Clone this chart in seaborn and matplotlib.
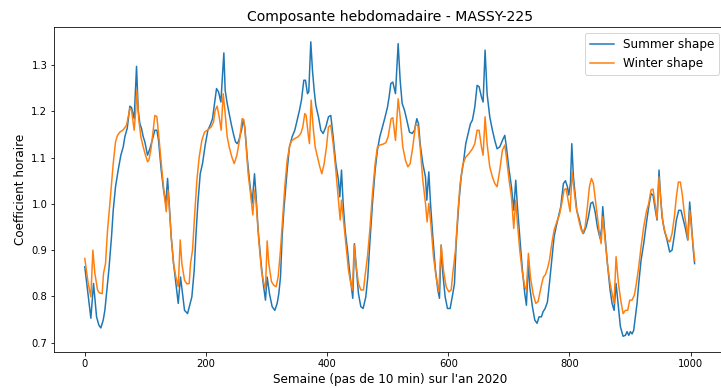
import numpy as np
import pandas as pd
import matplotlib
matplotlib.use("Agg")
import matplotlib.pyplot as plt
import seaborn as sns

title = "Composante hebdomadaire - MASSY-225"
xlabel = "Semaine (pas de 10 min) sur l'an 2020"
ylabel = "Coefficient horaire"
series_names = ["Summer shape", "Winter shape"]

summer_x = [0, 10, 14.4, 19.4, 23.2, 26.5, 30.4, 33.1, 37.5, 39.7, 44.1, 46.9, 50.7, 55.1, 59.5, 63.4, 66.1, 70, 74.4, 77.1,
            81.5, 85.4, 88.1, 90.9, 93.6, 96.4, 99.1, 103.5, 107.4, 111.2, 115.6, 119, 121.7, 126.1, 130, 133.8, 136.6, 139.3,
            142.6, 146.5, 150.3, 154.2, 158, 164.6, 169.6, 174, 176.7, 180.6, 183.3, 186.6, 190.5, 194.3, 198.7, 203.1, 207,
            210.8, 214.1, 217.4, 220.7, 224.6, 229.5, 231.7, 235, 238.3, 241.6, 245.5, 248.7, 251.5, 254.2, 258.6, 261.4,
            264.1, 268, 271.8, 276.2, 280.1, 282.8, 286.1, 290, 293.8, 298.2, 301, 304.8, 309.2, 313.6, 317.5, 320.2, 323,
            325.7, 328.5, 331.2, 334, 337.8, 342.2, 346.6, 350.5, 354.3, 357.6, 361.5, 364.2, 367.5, 369.7, 373, 375.8,
            378.6, 381.3, 385.7, 389.6, 393.4, 397.8, 402.2, 406, 409.9, 414.3, 418.7, 420.9, 423.7, 426.4, 429.7, 433.6,
            437.4, 440.7, 442.3, 445.1, 448.4, 451.7, 455.6, 459.4, 463.8, 467.1, 470.4, 474.8, 479.2, 483, 486.9, 491.3,
            495.7, 499.6, 502.3, 505.1, 508.4, 512.8, 517.2, 520.5, 523.8, 527.7, 531.5, 535.9, 540.3, 544.2, 548, 550.8,
            553.5, 557.9, 562.3, 564.5, 567.8, 570.6, 574.4, 578.8, 582.7, 585.4, 588.2, 590.9, 594.8, 598.6, 603, 607.4,
            610.2, 612.9, 617.3, 621.2, 625, 628.8, 632.7, 636.5, 639.8, 643.7, 647.5, 650.8, 654.7, 657.4, 660.7, 664,
            668.4, 672.8, 676.7, 680.5, 684.9, 689.3, 693.2, 695.9, 700.3, 704.2, 708, 711.3, 714.1, 717.9, 722.3, 726.2,
            728.9, 732.2, 734.4, 738.8, 742.7, 746.5, 749.8, 753.7, 756.4, 759.8, 763.6, 766.9, 770.8, 774.6, 777.9, 781.8,
            785.6, 790, 793.3, 796.6, 798.8, 801.6, 803.8, 806.5, 809.3, 812, 816.4, 820.3, 823, 827.4, 831.3, 835.1, 838.4,
            842.3, 846.1, 850.5, 853.3, 854.9, 858.8, 862.6, 867, 870.3, 873.6, 876.9, 880.8, 884, 888.4, 892.3, 895, 897.8,
            900.5, 903.3, 906, 908.8, 911.5, 914.3, 918.1, 922.5, 926.9, 930.8, 934.6, 937.9, 941.8, 944.5, 947.8, 950,
            952.8, 956.6, 961, 965.4, 969.3, 973.1, 976.4, 980.3, 984.1, 987.4, 991.3, 995.1, 998.4, 1001.2, 1003.9, 1006.5]
summer_y = [0.864, 0.753, 0.828, 0.756, 0.738, 0.732, 0.749, 0.770, 0.828, 0.857, 0.929, 0.986, 1.037, 1.073, 1.105, 1.123,
            1.145, 1.163, 1.211, 1.208, 1.184, 1.297, 1.202, 1.173, 1.163, 1.145, 1.134, 1.105, 1.119, 1.137, 1.159, 1.159,
            1.137, 1.073, 1.030, 1.001, 1.055, 1.001, 0.929, 0.871, 0.828, 0.785, 0.842, 0.770, 0.763, 0.785, 0.799, 0.857,
            0.929, 1.001, 1.065, 1.087, 1.127, 1.159, 1.170, 1.184, 1.217, 1.249, 1.242, 1.220, 1.326, 1.245, 1.217, 1.195,
            1.173, 1.150, 1.134, 1.130, 1.137, 1.159, 1.181, 1.166, 1.101, 1.051, 1.001, 1.065, 1.015, 0.943, 0.886, 0.835,
            0.792, 0.842, 0.806, 0.778, 0.770, 0.785, 0.806, 0.842, 0.929, 0.986, 1.030, 1.073, 1.123, 1.145, 1.159, 1.181,
            1.202, 1.224, 1.267, 1.267, 1.238, 1.242, 1.350, 1.288, 1.245, 1.213, 1.188, 1.159, 1.152, 1.166, 1.188, 1.191,
            1.145, 1.087, 1.051, 1.015, 1.073, 1.001, 0.943, 0.900, 0.850, 0.814, 0.796, 0.914, 0.857, 0.806, 0.778, 0.774,
            0.799, 0.842, 0.914, 1.001, 1.073, 1.116, 1.145, 1.166, 1.188, 1.209, 1.231, 1.260, 1.263, 1.238, 1.346, 1.267,
            1.217, 1.202, 1.181, 1.155, 1.152, 1.159, 1.184, 1.173, 1.130, 1.087, 1.058, 1.008, 1.069, 1.001, 0.929, 0.857,
            0.814, 0.796, 0.911, 0.850, 0.799, 0.774, 0.774, 0.806, 0.828, 0.914, 1.001, 1.058, 1.090, 1.130, 1.152, 1.173,
            1.181, 1.209, 1.256, 1.253, 1.231, 1.220, 1.332, 1.238, 1.188, 1.159, 1.137, 1.119, 1.123, 1.137, 1.148, 1.123,
            1.073, 1.037, 0.986, 1.051, 0.994, 0.929, 0.857, 0.806, 0.781, 0.878, 0.821, 0.778, 0.749, 0.742, 0.756, 0.756,
            0.767, 0.774, 0.788, 0.828, 0.878, 0.929, 0.950, 0.972, 0.994, 1.044, 1.050, 1.037, 1.019, 1.044, 1.130, 1.058,
            1.022, 0.986, 0.965, 0.943, 0.936, 0.950, 0.972, 1.001, 1.004, 0.983, 0.950, 0.925, 0.950, 0.994, 0.929, 0.871,
            0.814, 0.785, 0.770, 0.828, 0.778, 0.735, 0.714, 0.716, 0.724, 0.716, 0.724, 0.719, 0.727, 0.756, 0.785, 0.828,
            0.878, 0.914, 0.958, 0.994, 1.022, 1.019, 0.986, 0.965, 1.073, 1.022, 0.972, 0.943, 0.922, 0.896, 0.900, 0.932,
            0.965, 0.986, 0.986, 0.968, 0.947, 0.922, 1.004, 0.958, 0.907, 0.871]

winter_x = [0, 5.6, 10, 13.3, 16.6, 21, 23.8, 28.7, 30.9, 34.2, 37.5, 41.4, 44.1, 46.9, 50.7, 54, 57.9, 63.4, 68.9, 71.6,
            74.4, 77.1, 81.5, 83.7, 85.9, 89.2, 92.5, 96.4, 100.2, 103.5, 105.7, 109, 112.9, 115.6, 119, 122.8, 127.2, 131.6,
            134.4, 137.1, 139.3, 142.6, 146.5, 150.3, 154.2, 157.5, 160.2, 164.6, 168.5, 172.3, 174.5, 177.8, 181.1, 185,
            188.8, 193.2, 197.6, 203.1, 208.6, 212.5, 215.2, 218.5, 221.8, 225.1, 228.4, 231.7, 235, 238.3, 242.7, 246.6,
            251, 255.3, 259.7, 262.5, 265.2, 269.6, 273.5, 277.3, 280.1, 282.8, 287.1, 291.5, 295.5, 298.2, 301, 303.7,
            308.1, 312, 315.8, 319.1, 323, 326.8, 330.1, 334, 337.8, 341.1, 346.6, 352.1, 356.5, 359.8, 363.1, 365.3, 368.6,
            370.8, 373.6, 376.9, 380.2, 384.1, 387.9, 391.2, 395.1, 398.9, 402.2, 406, 409.9, 414.3, 418.7, 421.5, 423.7,
            426.4, 430.8, 435.2, 439, 441.8, 444.6, 447.3, 451.7, 455.6, 460, 462.7, 466.6, 470.4, 474.8, 479.2, 483, 486.9,
            492.4, 496.8, 500.7, 505.6, 508.4, 512.8, 517.2, 520.5, 524.9, 529.3, 533.2, 537, 541.4, 545.8, 549.7, 553.5,
            557.9, 562.3, 565, 567.8, 571.1, 575.5, 579.9, 584.3, 588.2, 592, 596.4, 600.8, 604.7, 607.4, 611.8, 615.7,
            619.5, 623.9, 628.8, 634.3, 639.8, 643.7, 647.5, 650.8, 654.7, 657.4, 660.7, 664, 668.4, 672.8, 676.7, 680.5,
            684.9, 689.3, 693.2, 695.9, 700.3, 704.2, 708, 711.3, 714.1, 717.9, 722.3, 726.2, 728.9, 732.2, 735.5, 739.9,
            744.3, 748.2, 750.9, 754.3, 757, 759.8, 763.6, 766.9, 770.8, 774.6, 779, 783.4, 787.3, 791.1, 794.4, 797.7, 801,
            804.3, 807.6, 810.9, 814.8, 818.6, 821.9, 825.8, 829.6, 832.9, 836.2, 839.5, 842.8, 846.1, 849.4, 852.2, 854.9,
            858.8, 862.6, 867, 871.4, 873.6, 876.9, 880.8, 884.6, 888.4, 892.3, 896.1, 899.4, 903.3, 907.1, 910.4, 914.3,
            918.1, 922.5, 926.9, 930.8, 934.6, 937.9, 941.2, 944.5, 947.8, 951.1, 954.4, 958.3, 962.1, 965.4, 969.3, 973.1,
            976.4, 979.7, 983, 986.3, 989.6, 992.9, 995.7, 998.4, 1001.7, 1005, 1006.6]
winter_y = [0.882, 0.828, 0.799, 0.900, 0.850, 0.814, 0.808, 0.806, 0.850, 0.871, 0.943, 1.001, 1.044, 1.087, 1.134, 1.148,
            1.155, 1.160, 1.170, 1.188, 1.206, 1.202, 1.159, 1.195, 1.245, 1.181, 1.145, 1.123, 1.105, 1.091, 1.094, 1.116,
            1.159, 1.191, 1.188, 1.137, 1.073, 1.015, 0.983, 1.030, 0.994, 0.929, 0.871, 0.842, 0.821, 0.922, 0.871, 0.835,
            0.827, 0.828, 0.871, 0.900, 0.972, 1.051, 1.101, 1.137, 1.155, 1.160, 1.166, 1.177, 1.202, 1.211, 1.188, 1.159,
            1.238, 1.195, 1.145, 1.123, 1.101, 1.087, 1.105, 1.137, 1.184, 1.182, 1.145, 1.065, 1.022, 0.976, 1.030, 1.001,
            0.922, 0.857, 0.828, 0.817, 0.920, 0.871, 0.832, 0.824, 0.821, 0.842, 0.900, 0.972, 1.037, 1.094, 1.123, 1.136,
            1.141, 1.145, 1.152, 1.166, 1.195, 1.191, 1.152, 1.130, 1.224, 1.166, 1.123, 1.101, 1.080, 1.065, 1.087, 1.123,
            1.166, 1.170, 1.130, 1.073, 1.008, 0.965, 1.008, 0.972, 0.914, 0.857, 0.828, 0.814, 0.911, 0.871, 0.828, 0.814,
            0.814, 0.846, 0.886, 0.943, 1.022, 1.087, 1.123, 1.127, 1.129, 1.132, 1.145, 1.184, 1.186, 1.137, 1.227, 1.188,
            1.123, 1.094, 1.080, 1.087, 1.123, 1.170, 1.170, 1.123, 1.051, 1.001, 0.961, 1.001, 0.958, 0.886, 0.842, 0.810,
            0.911, 0.857, 0.821, 0.810, 0.814, 0.850, 0.900, 0.979, 1.044, 1.085, 1.101, 1.109, 1.119, 1.130, 1.159, 1.159,
            1.123, 1.105, 1.188, 1.130, 1.080, 1.058, 1.044, 1.037, 1.073, 1.116, 1.127, 1.101, 1.051, 1.015, 0.947, 1.008,
            0.958, 0.900, 0.850, 0.821, 0.814, 0.893, 0.842, 0.806, 0.785, 0.789, 0.806, 0.828, 0.842, 0.846, 0.860, 0.878,
            0.914, 0.943, 0.961, 0.976, 1.001, 1.030, 1.033, 1.008, 0.983, 1.069, 1.030, 0.994, 0.968, 0.947, 0.936, 0.950,
            0.994, 1.037, 1.055, 1.044, 1.008, 0.972, 0.936, 0.914, 0.972, 0.922, 0.871, 0.828, 0.799, 0.785, 0.886, 0.828,
            0.792, 0.763, 0.770, 0.770, 0.792, 0.792, 0.803, 0.828, 0.864, 0.907, 0.950, 0.983, 1.001, 1.030, 1.032, 1.001,
            0.968, 1.058, 1.001, 0.958, 0.936, 0.922, 0.918, 0.936, 0.972, 1.015, 1.047, 1.047, 1.019, 0.979, 0.950, 0.922,
            0.986, 0.943, 0.900, 0.878]

xticks = [0, 200, 400, 600, 800, 1000]
yticks = [0.7, 0.8, 0.9, 1.0, 1.1, 1.2, 1.3]

summer_df = pd.DataFrame({"x": summer_x, "y": summer_y})
winter_df = pd.DataFrame({"x": winter_x, "y": winter_y})

DPI = 72
fig = plt.figure(figsize=(721 / DPI, 388 / DPI), dpi=DPI)
ax = fig.add_axes([54.3 / 721, (388 - 352) / 388, (725.4 - 54.3) / 721, (352 - 27) / 388])

sns.lineplot(data=summer_df, x="x", y="y", ax=ax, color="#1f77b4", linewidth=1.5, label=series_names[0])
sns.lineplot(data=winter_df, x="x", y="y", ax=ax, color="#ff7f0e", linewidth=1.5, label=series_names[1])

ax.set_xlim(-50.35, 1057.35)
ax.set_ylim(0.680, 1.382)
ax.set_xticks(xticks)
ax.set_xticklabels([str(t) for t in xticks])
ax.set_yticks(yticks)
ax.set_yticklabels([f"{t:.1f}" for t in yticks])
ax.tick_params(labelsize=10)
ax.set_title(title, fontsize=14)
ax.set_xlabel(xlabel, fontsize=12)
ax.set_ylabel(ylabel, fontsize=12)
ax.legend(loc="upper right", fontsize=12)

fig.savefig("out.png", dpi=DPI)
